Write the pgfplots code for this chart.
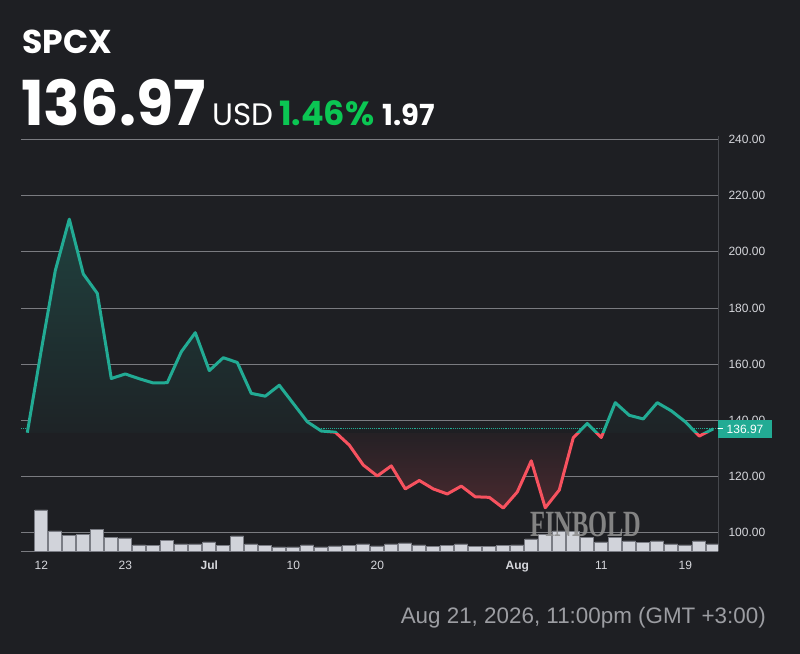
\documentclass[border=0pt]{standalone}
\usepackage{fontspec}
\setmainfont{Liberation Sans}
\newfontfamily\pop{Poppins}
\newfontfamily\wmfont{Liberation Serif}
\usepackage{pgfplots}
\usepackage{pgfplotstable}
\pgfplotsset{compat=1.18}
\definecolor{bg}{HTML}{1E1F23}
\definecolor{gridcol}{HTML}{7A7B80}
\definecolor{axcol}{HTML}{46484D}
\definecolor{tealc}{HTML}{22AB94}
\definecolor{redc}{HTML}{F7525F}
\definecolor{labc}{HTML}{D6D7DC}
\definecolor{barfill}{HTML}{D1D3DA}
\definecolor{bardraw}{HTML}{7A7C84}
\definecolor{greenc}{HTML}{0BC653}
\definecolor{datec}{HTML}{9C9DA2}
\definecolor{wmcol}{HTML}{8E8E8E}
% vertical fades: the path's box maps to 25bp..75bp (price 108.8 at 25, 135.5 at 38, 211.6 at 75)
\pgfdeclareverticalshading{tealfade}{100bp}{color(0bp)=(bg); color(25bp)=(bg); color(38bp)=(tealc!3!bg); color(75bp)=(tealc!24!bg); color(100bp)=(tealc!24!bg)}
\pgfdeclareverticalshading{redfade}{100bp}{color(0bp)=(redc!20!bg); color(25bp)=(redc!20!bg); color(38bp)=(redc!3!bg); color(75bp)=(bg); color(100bp)=(bg)}

\pgfplotstableread{
k price
0 135.6
1 165.0
2 193.3
3 211.6
4 192.1
5 185.2
6 154.9
7 156.5
8 154.8
9 153.3
10 153.4
11 164.4
12 171.2
13 157.7
14 162.3
15 160.6
16 149.6
17 148.6
18 152.5
19 146.0
20 139.5
21 136.2
22 135.8
23 131.2
24 124.1
25 120.2
26 123.8
27 115.6
28 118.6
29 115.6
30 113.8
31 116.6
32 112.8
33 112.6
34 108.8
35 114.5
36 125.6
37 108.9
38 115.2
39 133.8
40 138.9
41 133.9
42 146.3
43 141.8
44 140.5
45 146.3
46 143.4
47 139.5
48 134.4
49 136.97
}\pricetable

\pgfplotstableread{
k vol
1 41.3
2 20.3
3 16.0
4 16.7
5 22.0
6 14.0
7 13.3
8 6.3
9 5.7
10 11.0
11 7.3
12 7.3
13 9.3
14 6.0
15 15.3
16 7.3
17 6.0
18 4.3
19 4.3
20 6.3
21 4.3
22 5.3
23 6.0
24 7.3
25 5.3
26 7.3
27 8.3
28 6.3
29 5.0
30 6.0
31 7.3
32 5.0
33 5.0
34 6.0
35 6.3
36 12.3
37 16.7
38 20.3
39 19.7
40 14.0
41 9.3
42 14.0
43 10.3
44 8.7
45 10.3
46 7.3
47 6.3
48 10.3
49 7.3
}\voltable

\begin{document}
\begin{tikzpicture}
\fill[bg] (0,0) rectangle (800bp,654bp);

% header
\node[anchor=base west, inner sep=0, text=white] at (22bp,600bp)
  {\pop\bfseries\fontsize{33bp}{33bp}\selectfont SPCX};
\node[anchor=base west, inner sep=0, text=white] at (21bp,528.3bp)
  {\scalebox{0.975}[1]{\pop\bfseries\fontsize{62bp}{62bp}\selectfont 136.97}};
\node[anchor=base west, inner sep=0, text=white] at (212bp,528.3bp)
  {\pop\fontsize{31bp}{31bp}\selectfont USD};
\node[anchor=base west, inner sep=0, text=greenc] at (279bp,528.3bp)
  {\pop\bfseries\fontsize{33.5bp}{33.5bp}\selectfont 1.46\%};
\node[anchor=base west, inner sep=0, text=white] at (382bp,528.3bp)
  {\pop\bfseries\fontsize{29bp}{29bp}\selectfont 1.97};

% date
\node[anchor=base east, inner sep=0, text=datec] at (766bp,30.7bp)
  {\fontsize{22.4bp}{22.4bp}\selectfont Aug 21, 2026, 11:00pm (GMT +3:00)};

% grid and labels axis
\begin{axis}[
  at={(21bp,102.7bp)}, anchor=south west,
  scale only axis, width=697bp, height=415.3bp,
  xmin=-0.45, xmax=49.34, ymin=93.4, ymax=241.2,
  axis x line*=bottom, axis y line*=right,
  x axis line style={draw=gridcol, line width=0.8bp},
  y axis line style={draw=axcol, line width=1bp},
  ymajorgrids, grid style={gridcol, line width=0.8bp},
  ytick={100,120,140,160,180,200,220,240},
  yticklabels={100.00,120.00,140.00,160.00,180.00,200.00,220.00,240.00},
  xtick={1,7,13,19,25,35,41,47},
  xticklabels={12,23,\textbf{Jul},10,20,\textbf{Aug},11,19},
  major tick length=4bp,
  ytick style={draw=gridcol, line width=0.8bp},
  xtick style={draw=none},
  yticklabel style={font=\fontsize{12bp}{12bp}\selectfont, text=labc, anchor=west, xshift=7bp},
  xticklabel style={font=\fontsize{12bp}{12bp}\selectfont, text=labc, yshift=-6bp},
]
\end{axis}

% volume axis
\begin{axis}[
  at={(21bp,102.7bp)}, anchor=south west,
  scale only axis, width=697bp, height=415.3bp,
  xmin=-0.45, xmax=49.34, ymin=0, ymax=415.3,
  hide axis, ybar, bar width=0.92,
]
\addplot[fill=barfill, draw=bardraw, line width=0.8bp] table[x=k, y=vol] {\voltable};
\end{axis}

% price axis: reference line, labels
\begin{axis}[
  at={(21bp,102.7bp)}, anchor=south west,
  scale only axis, width=697bp, height=415.3bp,
  xmin=-0.45, xmax=49.34, ymin=93.4, ymax=241.2,
  hide axis, clip=false,
]
\addplot[tealc, densely dotted, line width=0.9bp] coordinates {(-0.45,136.97) (49.34,136.97)};
\node[text=wmcol, opacity=0.9, anchor=center] at (axis cs:39.9,102.9)
  {\scalebox{0.66}[1]{\wmfont\bfseries\fontsize{37bp}{37bp}\selectfont FINBOLD}};
\node[fill=tealc, text=white, anchor=west, inner xsep=8.5bp, minimum height=17.4bp, inner ysep=0pt,
  font=\fontsize{12bp}{12bp}\selectfont] at (axis cs:49.34,136.97) {136.97};
\draw[white, line width=1bp] (axis cs:49.34,136.97) -- ([xshift=5bp]axis cs:49.34,136.97);
\end{axis}

% teal part (above 135.5), clipped by this axis' box
\begin{axis}[
  at={(21bp,221.0bp)}, anchor=south west,
  scale only axis, width=697bp, height=297.0bp,
  xmin=-0.45, xmax=49.34, ymin=135.5, ymax=241.2,
  hide axis,
]
\addplot[shade, shading=tealfade, draw=none] table[x=k, y=price] {\pricetable}
  -- (axis cs:49,135.5) -- (axis cs:0,135.5) -- cycle;
\addplot[tealc, line width=3bp, line join=round] table[x=k, y=price] {\pricetable};
\end{axis}

% red part (below 135.5), clipped by this axis' box
\begin{axis}[
  at={(21bp,102.7bp)}, anchor=south west,
  scale only axis, width=697bp, height=118.3bp,
  xmin=-0.45, xmax=49.34, ymin=93.4, ymax=135.5,
  hide axis,
]
\addplot[shade, shading=redfade, draw=none] table[x=k, y=price] {\pricetable}
  -- (axis cs:49,135.5) -- (axis cs:0,135.5) -- cycle;
\addplot[redc, line width=3bp, line join=round] table[x=k, y=price] {\pricetable};
\end{axis}
\end{tikzpicture}
\end{document}
